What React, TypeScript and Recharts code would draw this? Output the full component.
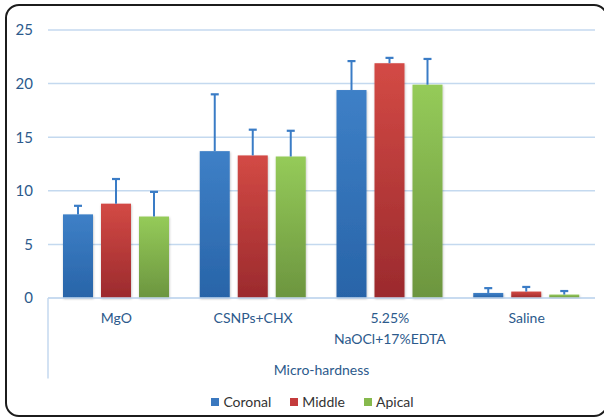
import React from "react";
import { BarChart, Bar, XAxis, YAxis, CartesianGrid, Legend, ReferenceLine, Label } from "recharts";

const categories = ["MgO", "CSNPs+CHX", "5.25%\nNaOCl+17%EDTA", "Saline"];
const coronal = [7.8, 13.7, 19.4, 0.47];
const middle = [8.8, 13.3, 21.9, 0.6];
const apical = [7.6, 13.2, 19.9, 0.32];
const coronalErr = [0.8, 5.3, 2.7, 0.45];
const middleErr = [2.3, 2.4, 0.5, 0.43];
const apicalErr = [2.3, 2.4, 2.4, 0.33];
const yTicks = [0, 5, 10, 15, 20, 25];
const seriesNames = ["Coronal", "Middle", "Apical"];

const data = categories.map((c, i) => ({
  name: c,
  Coronal: coronal[i],
  Middle: middle[i],
  Apical: apical[i],
  CoronalErr: coronalErr[i],
  MiddleErr: middleErr[i],
  ApicalErr: apicalErr[i],
}));

const FONT = "Lato, 'Open Sans', sans-serif";
const AXIS_BLUE = "#2c5a8c";
const GRID = "#c4d9ef";
const ERR = "#3a7cc6";

const legendColors: Record<string, string> = {
  Coronal: "#3a78bf",
  Middle: "#c43b3c",
  Apical: "#86b94d",
};

const makeShape = (key: string, gradId: string) => (p: any) => {
  const { x, y, width, height, payload } = p;
  const val = payload[key];
  const err = payload[key + "Err"];
  const ppu = val ? height / val : 0;
  const errLen = err * ppu;
  const cx = x + width / 2;
  return (
    <g>
      <rect x={x} y={y} width={width} height={height} fill={`url(#${gradId})`} filter="url(#barShadow)" />
      <line x1={cx} x2={cx} y1={y} y2={y - errLen} stroke={ERR} strokeWidth={2} />
      <line x1={cx - 4} x2={cx + 4} y1={y - errLen} y2={y - errLen} stroke={ERR} strokeWidth={2.2} />
    </g>
  );
};

const XTick = (props: any) => {
  const { x, y, payload } = props;
  const lines = String(payload.value).split("\n");
  return (
    <text x={x} y={y} textAnchor="middle" fill={AXIS_BLUE} fontSize={14} fontFamily={FONT}>
      {lines.map((l, i) => (
        <tspan key={i} x={x} dy={i === 0 ? 25 : 21}>
          {l}
        </tspan>
      ))}
    </text>
  );
};

const LegendContent = () => (
  <div style={{ display: "flex", justifyContent: "center", alignItems: "center", fontFamily: FONT, fontSize: 14, color: "#333" }}>
    {seriesNames.map((n) => (
      <div key={n} style={{ display: "flex", alignItems: "center", marginRight: 19 }}>
        <span style={{ display: "inline-block", width: 8, height: 8, background: legendColors[n], marginRight: 4 }} />
        <span>{n}</span>
      </div>
    ))}
  </div>
);

export default function App() {
  return (
    <div style={{ position: "absolute", left: 0, top: 0, width: 604, height: 418, background: "#fff", overflow: "hidden" }}>
      <div
        style={{
          position: "absolute",
          left: 5,
          top: 4,
          width: 603,
          height: 413,
          border: "2px solid #1c1c1c",
          borderRadius: 14,
          boxSizing: "border-box",
        }}
      />
      <BarChart
        width={604}
        height={418}
        data={data}
        margin={{ top: 30, right: 9, left: 0, bottom: 40 }}
        barSize={30}
        barGap={8}
        style={{ position: "absolute", left: 0, top: 0 }}
      >
        <defs>
          <linearGradient id="gBlue" x1="0" y1="0" x2="0" y2="1">
            <stop offset="0%" stopColor="#3e80c7" />
            <stop offset="100%" stopColor="#2864a8" />
          </linearGradient>
          <linearGradient id="gRed" x1="0" y1="0" x2="0" y2="1">
            <stop offset="0%" stopColor="#d34a45" />
            <stop offset="100%" stopColor="#9b2a2d" />
          </linearGradient>
          <linearGradient id="gGreen" x1="0" y1="0" x2="0" y2="1">
            <stop offset="0%" stopColor="#95cb59" />
            <stop offset="100%" stopColor="#6c953f" />
          </linearGradient>
          <filter id="barShadow" x="-20%" y="-5%" width="140%" height="115%">
            <feDropShadow dx="0.5" dy="1" stdDeviation="1" floodColor="#000" floodOpacity="0.25" />
          </filter>
        </defs>
        <CartesianGrid vertical={false} stroke={GRID} strokeWidth={1.5} />
        <YAxis
          width={48}
          domain={[0, 25]}
          ticks={yTicks}
          axisLine={false}
          tickLine={false}
          tickSize={0}
          tickMargin={15}
          tick={{ fill: AXIS_BLUE, fontSize: 15, fontFamily: FONT }}
        />
        <XAxis
          dataKey="name"
          height={80}
          axisLine={{ stroke: GRID, strokeWidth: 1.5 }}
          tickLine={false}
          tickSize={0}
          tickMargin={0}
          tick={<XTick />}
          interval={0}
        >
          <Label value="Micro-hardness" position="insideBottom" offset={3} fill={AXIS_BLUE} fontSize={14} fontFamily={FONT} />
        </XAxis>
        <XAxis xAxisId="edge" type="number" domain={[0, 4]} hide />
        <ReferenceLine
          xAxisId="edge"
          segment={[{ x: 0, y: 0 }, { x: 0, y: -7.5 }]}
          ifOverflow="visible"
          stroke={GRID}
          strokeWidth={1.5}
        />
        <ReferenceLine
          xAxisId="edge"
          segment={[{ x: 4, y: 0 }, { x: 4, y: -7.5 }]}
          ifOverflow="visible"
          stroke={GRID}
          strokeWidth={1.5}
        />
        <Legend
          layout="horizontal"
          verticalAlign="middle"
          align="center"
          content={<LegendContent />}
          wrapperStyle={{ top: 393, left: 20, width: 604, height: 22 }}
        />
        <Bar dataKey="Coronal" fill="#3a78bf" isAnimationActive={false} shape={makeShape("Coronal", "gBlue")} />
        <Bar dataKey="Middle" fill="#c43b3c" isAnimationActive={false} shape={makeShape("Middle", "gRed")} />
        <Bar dataKey="Apical" fill="#86b94d" isAnimationActive={false} shape={makeShape("Apical", "gGreen")} />
      </BarChart>
    </div>
  );
}
